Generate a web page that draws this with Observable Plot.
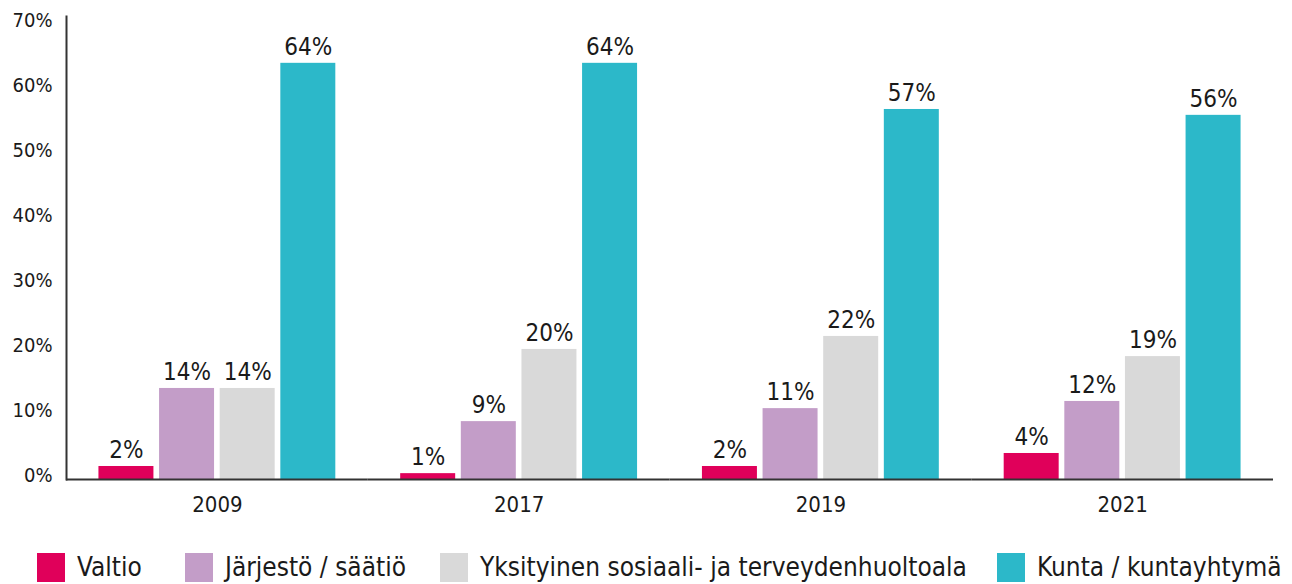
<!DOCTYPE html>
<html>
<head>
<meta charset="utf-8">
<script src="https://cdn.jsdelivr.net/npm/d3@7"></script>
<script src="https://cdn.jsdelivr.net/npm/@observablehq/plot@0.6"></script>
<style>
  html, body { margin: 0; padding: 0; background: #fff; }
  body { width: 1292px; height: 584px; position: relative; overflow: hidden;
         font-family: "DejaVu Sans Condensed", "DejaVu Sans", sans-serif; font-stretch: condensed; }
  #chart { position: absolute; left: 0; top: 0; }
  #legend { position: absolute; left: 0; top: 552px; width: 1292px; height: 32px; }
  .item { position: absolute; top: 0; height: 30px; display: flex; align-items: center; white-space: nowrap;
          font-size: 26px; color: #1a1a1a; }
  .sw { width: 28px; height: 29px; margin-right: 12px; flex: none; }
</style>
</head>
<body>
<div id="chart"></div>
<div id="legend"></div>
<script>
const years = ["2009", "2017", "2019", "2021"];
const series = ["Valtio", "Järjestö / säätiö", "Yksityinen sosiaali- ja terveydenhuoltoala", "Kunta / kuntayhtymä"];
const valtio = [2.0, 0.9, 2.0, 4.0];
const jarjesto = [14.0, 8.9, 10.9, 12.0];
const yksityinen = [14.0, 20.0, 22.0, 18.9];
const kunta = [64.0, 64.0, 56.9, 56.0];
const colors = ["#E0005A", "#C39DC8", "#D9D9D9", "#2CB8C9"];
const yTicks = [0, 10, 20, 30, 40, 50, 60, 70];
const legendLeft = [37, 185, 440, 997];

const seriesValues = [valtio, jarjesto, yksityinen, kunta];
const data = [];
years.forEach((year, i) => {
  series.forEach((s, j) => data.push({year, series: s, value: seriesValues[j][i]}));
});

const chart = Plot.plot({
  width: 1292,
  height: 530,
  marginLeft: 66,
  marginRight: 19,
  marginTop: 16,
  marginBottom: 51,
  style: {fontFamily: "'DejaVu Sans Condensed', 'DejaVu Sans', sans-serif", fontStretch: "condensed", background: "#fff", color: "#1a1a1a"},
  fx: {domain: years, padding: 0, round: false, label: null},
  x: {domain: series, paddingInner: 0.093, paddingOuter: 0.535, round: false, axis: null},
  y: {domain: [0, 71.2]},
  color: {domain: series, range: colors},
  marks: [
    Plot.barY(data, {fx: "year", x: "series", y: "value", fill: "series"}),
    Plot.text(data, {fx: "year", x: "series", y: "value", text: d => Math.round(d.value) + "%", dy: -16, fontSize: 24, fill: "#1a1a1a"}),
    Plot.ruleY([0], {stroke: "#333", strokeWidth: 2}),
    Plot.frame({anchor: "left", facetAnchor: "left", stroke: "#333", strokeWidth: 2}),
    Plot.axisY({ticks: yTicks, tickFormat: d => d + "%", tickSize: 0, tickPadding: 14, fontSize: 20, dy: -4, label: null}),
    Plot.axisFx({anchor: "bottom", tickSize: 0, tickPadding: 17, fontSize: 22, label: null})
  ]
});
document.getElementById("chart").appendChild(chart);

const legend = document.getElementById("legend");
series.forEach((s, i) => {
  const item = document.createElement("div");
  item.className = "item";
  item.style.left = legendLeft[i] + "px";
  const sw = document.createElement("span");
  sw.className = "sw";
  sw.style.background = colors[i];
  const t = document.createElement("span");
  t.textContent = s;
  item.appendChild(sw);
  item.appendChild(t);
  legend.appendChild(item);
});
</script>
</body>
</html>
